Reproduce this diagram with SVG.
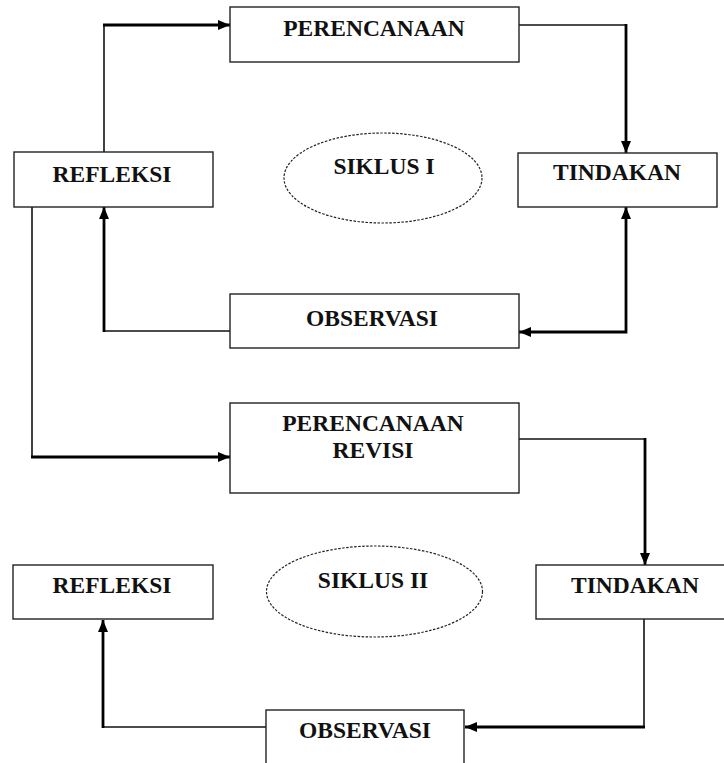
<svg xmlns="http://www.w3.org/2000/svg" width="724" height="763" viewBox="0 0 724 763">
<style>
.box{fill:#fff;stroke:#222;stroke-width:1.4}
.ell{fill:#fff;stroke:#222;stroke-width:1.2;stroke-dasharray:2.5 1.5}
.t{font-family:"Liberation Serif","Times New Roman",serif;font-weight:bold;font-size:23.5px;fill:#111;text-anchor:middle}
.thin{fill:none;stroke:#111;stroke-width:1.6}
.thick{fill:none;stroke:#000;stroke-width:2.8}
</style>
<defs>
<marker id="ah" markerUnits="userSpaceOnUse" markerWidth="14" markerHeight="14" viewBox="0 0 14 14" refX="13" refY="7" orient="auto-start-reverse">
<path d="M1,2 L13,7 L1,12 Z" fill="#000"/>
</marker>
</defs>
<rect width="724" height="763" fill="#fff"/>
<g id="connectors">
<path class="thin" d="M104,152 V25"/>
<path class="thick" d="M103,25 H230" marker-end="url(#ah)"/>
<path class="thin" d="M519,25 H626"/>
<path class="thick" d="M626,24 V153" marker-end="url(#ah)"/>
<path class="thick" d="M626,207 V332 H519" marker-start="url(#ah)" marker-end="url(#ah)"/>
<path class="thin" d="M230,331 H104"/>
<path class="thick" d="M104,332 V207" marker-end="url(#ah)"/>
<path class="thin" d="M32,207 V457"/>
<path class="thick" d="M31,457 H230" marker-end="url(#ah)"/>
<path class="thin" d="M519,439 H645"/>
<path class="thick" d="M645,438 V565" marker-end="url(#ah)"/>
<path class="thin" d="M644,619 V727"/>
<path class="thick" d="M645,727 H465" marker-end="url(#ah)"/>
<path class="thin" d="M266,727 H103"/>
<path class="thick" d="M103,728 V620" marker-end="url(#ah)"/>
</g>
<g id="perencanaan"><rect class="box" x="230" y="7" width="289" height="55"/><text class="t" x="374" y="36">PERENCANAAN</text></g>
<g id="refleksi"><rect class="box" x="14" y="152" width="199" height="55"/><text class="t" x="112" y="182">REFLEKSI</text></g>
<g id="siklus1"><ellipse class="ell" cx="383" cy="178" rx="99" ry="45"/><text class="t" x="384" y="174">SIKLUS I</text></g>
<g id="tindakan"><rect class="box" x="518" y="153" width="199" height="54"/><text class="t" x="617" y="180">TINDAKAN</text></g>
<g id="observasi"><rect class="box" x="230" y="294" width="289" height="54"/><text class="t" x="372" y="326">OBSERVASI</text></g>
<g id="perencanaan-revisi"><rect class="box" x="230" y="403" width="289" height="90"/><text class="t" x="373" y="431">PERENCANAAN</text><text class="t" x="373" y="458">REVISI</text></g>
<g id="refleksi2"><rect class="box" x="13" y="565" width="200" height="54"/><text class="t" x="112" y="593">REFLEKSI</text></g>
<g id="siklus2"><ellipse class="ell" cx="374.5" cy="591.5" rx="108" ry="45.5"/><text class="t" x="373" y="588">SIKLUS II</text></g>
<g id="tindakan2"><rect class="box" x="536" y="565" width="200" height="54"/><text class="t" x="635" y="593">TINDAKAN</text></g>
<g id="observasi2"><rect class="box" x="266" y="710" width="198" height="60"/><text class="t" x="365" y="738">OBSERVASI</text></g>
</svg>
